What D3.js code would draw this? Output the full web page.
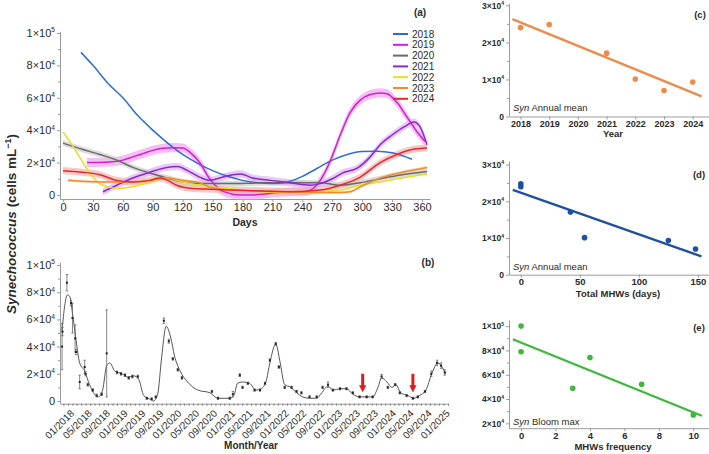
<!DOCTYPE html>
<html><head><meta charset="utf-8">
<script src="https://cdn.jsdelivr.net/npm/d3@7"></script>
<style>
body{margin:0;background:#fff;}
svg{font-family:"Liberation Sans",Arial,sans-serif;}
</style></head><body>
<svg id="chart" width="709" height="454"></svg>
<script>
// ---------- DATA ----------
const years = ["2018","2019","2020","2021","2022","2023","2024"];
const yearColors = ["#2f6bd8","#d21fd2","#6b6b6b","#8f25d2","#e6df22","#f28b2c","#e02b2b"];
const bandColors = [null,"#f3a3f1","#cfcfcf","#dcb4f3",null,"#f8cfa5","#f6b0b0"];
const bandHalf = [0,2800,1800,2200,0,900,2200];
const s2018 = [[18,88000],[30,80000],[45,69000],[60,60000],[75,49000],[90,40000],[105,32000],[120,25000],[135,19500],[150,15000],[165,11500],[180,9000],[195,7500],[210,7000],[225,8000],[240,11500],[255,16500],[270,21500],[285,25000],[300,26800],[315,27000],[330,26000],[350,22000]];
const s2019 = [[24,20000],[35,20000],[50,20500],[60,21500],[70,23500],[80,25500],[90,27500],[100,28800],[110,29200],[120,29000],[128,26000],[137,20000],[147,10000],[157,3500],[168,800],[178,0],[190,0],[200,500],[215,1500],[230,2000],[240,2000],[248,3000],[258,9000],[268,21000],[278,37000],[288,51000],[298,58500],[308,62000],[318,63000],[325,62500],[335,57000],[345,48000],[355,39000],[363,33000]];
const s2020 = [[0,32000],[20,28000],[37,25000],[54,21500],[70,17000],[87,13500],[104,10500],[120,8000],[137,7000],[150,7000],[168,7000],[200,7500],[230,7500],[258,7500],[278,6000],[298,7500],[318,10000],[340,12500],[365,14500]];
const s2021 = [[40,2000],[54,6000],[70,10500],[87,14000],[104,17000],[115,17500],[125,15000],[137,11000],[147,9000],[157,10500],[170,12500],[178,13000],[190,10500],[208,9000],[228,7500],[248,6000],[258,7000],[270,10000],[280,13500],[295,16500],[308,23500],[318,31000],[330,37000],[342,42000],[352,45000],[358,42000],[365,31000]];
const s2022 = [[0,39000],[10,30000],[20,20000],[30,11000],[40,6000],[54,4000],[70,5000],[87,8000],[104,10500],[120,8000],[137,6000],[157,4500],[178,3000],[200,2000],[230,1500],[258,2000],[278,3000],[298,6000],[318,8000],[340,10500],[365,13000]];
const s2023 = [[5,9000],[37,8000],[70,8000],[87,9000],[104,10500],[120,9000],[137,7500],[147,5000],[170,3000],[200,2300],[240,1700],[278,1500],[288,2000],[298,5000],[318,10500],[340,14000],[365,17000]];
const s2024 = [[0,15000],[20,14000],[37,12500],[54,9000],[70,8000],[87,9000],[97,10500],[105,9000],[114,6000],[130,4000],[150,3500],[170,3000],[200,2500],[230,2000],[258,3000],[278,6000],[298,11000],[318,20000],[335,25000],[350,28000],[365,29000]];
const seriesA = [s2018,s2019,s2020,s2021,s2022,s2023,s2024];
const dayTicks = [0,30,60,90,120,150,180,210,240,270,300,330,360];
const cellTicksA = [0,20000,40000,60000,80000,100000];

const bDates = ["2017-11-22","2017-11-25","2017-12-25","2018-01-22","2018-02-01","2018-02-19","2018-02-25","2018-03-22","2018-04-25","2018-05-01","2018-05-16","2018-06-19","2018-07-16","2018-08-19","2018-09-22","2018-12-01","2018-12-28","2019-01-25","2019-02-19","2019-03-16","2019-04-22","2019-06-22","2019-07-25","2019-08-22","2019-10-16","2019-11-19","2019-12-16","2020-01-19","2020-02-16","2020-09-07","2020-10-19","2021-01-07","2021-01-28","2021-03-16","2021-04-04","2021-05-10","2021-06-25","2021-08-01","2021-09-04","2021-10-07","2021-11-16","2021-12-07","2022-01-16","2022-03-04","2022-04-07","2022-05-10","2022-07-04","2022-08-22","2022-10-01","2022-11-07","2022-12-10","2023-01-28","2023-03-13","2023-04-25","2023-06-10","2023-07-28","2023-09-07","2023-11-07","2023-12-19","2024-02-07","2024-03-10","2024-04-25","2024-06-07","2024-07-10","2024-08-28","2024-10-10","2024-11-19","2024-12-16","2025-01-10"];
const bValues = [40000,51000,87000,72000,61000,46000,36000,14000,25000,20000,12000,8000,4000,5000,35000,21000,20000,19000,17000,18000,18000,2000,1500,3000,59000,44000,31000,23000,17000,7000,2000,2000,5000,19000,10000,13000,8000,8000,13000,30000,42000,25000,10000,10000,7000,6000,3000,3000,10000,12000,8000,9000,9000,6000,3000,3000,3000,18000,10000,12000,6000,4000,2000,3000,7000,20000,28000,26000,21000];
const bErrors = [17000,3000,6000,2000,11000,10000,2000,5000,5000,1500,1000,1000,1000,1000,32000,1000,1000,1000,1000,1000,1000,800,800,800,2000,1500,1000,1000,1000,800,800,800,2000,1000,800,800,800,800,800,1000,1000,1000,800,800,800,800,800,800,800,2000,800,800,800,800,800,800,800,1500,800,800,800,800,800,800,800,2000,2000,2000,2000];
const fitDates = ["2017-11-22","2017-12-10","2017-12-28","2018-01-13","2018-02-04","2018-02-25","2018-03-22","2018-04-25","2018-05-28","2018-07-01","2018-07-28","2018-08-25","2018-09-22","2018-10-13","2018-11-16","2019-01-04","2019-02-13","2019-03-25","2019-04-28","2019-06-01","2019-07-10","2019-08-07","2019-09-04","2019-10-01","2019-11-01","2019-12-01","2019-12-28","2020-02-04","2020-03-25","2020-06-04","2020-08-25","2020-10-19","2021-01-07","2021-02-04","2021-03-01","2021-04-04","2021-05-22","2021-07-04","2021-08-07","2021-09-10","2021-10-07","2021-11-16","2021-12-13","2022-01-16","2022-02-28","2022-04-07","2022-05-19","2022-07-04","2022-08-22","2022-09-25","2022-11-07","2022-12-10","2023-01-28","2023-03-13","2023-04-25","2023-06-10","2023-07-28","2023-09-07","2023-10-13","2023-11-07","2023-12-13","2024-01-16","2024-02-13","2024-03-16","2024-05-04","2024-06-13","2024-07-22","2024-09-04","2024-10-13","2024-11-25","2024-12-22","2025-01-16"];
const fitValues = [52000,70000,78000,77000,62000,45000,28000,22000,12000,5000,3000,8000,26000,28000,22000,20000,17500,18500,16000,4000,1500,0,5000,32000,55000,47000,33000,22000,14000,8000,6000,2000,2000,4000,13000,14000,13000,8000,9000,14000,28000,42000,30000,12000,10000,6000,3000,2000,2000,6000,11000,8000,9000,9000,5000,3000,3000,3000,10000,17000,14000,10000,12000,6000,4000,2000,4000,8000,20000,28000,25000,20000];
const arrowDates = ["2023-07-01","2024-06-07"];

const annualYears = [2018,2019,2021,2022,2023,2024];
const annualMean = [24000,24800,17100,10100,7000,9300];
const mhwDays = [0,0,42,54,148,125];
const mhwFrequency = [0,0,3,4,7,10];
const bloomMax = [100000,78900,48800,74200,52100,26800];
const yearTicks = [2018,2019,2020,2021,2022,2023,2024];
const dayTicksD = [0,50,100,150];
const freqTicks = [0,2,4,6,8,10];
const meanTicks = [0,10000,20000,30000];
const bloomTicks = [20000,40000,60000,80000,100000];

// ---------- DRAW ----------
const svg = d3.select("#chart");
const FONT = "'Liberation Sans', Arial, sans-serif";
const TXT = "#2b2b2b", AX = "#9c9c9c";
const parse = d3.timeParse("%Y-%m-%d");

function supLabel(t, v, fs) {
  t.text(null);
  if (v === 0) { t.text("0"); return; }
  const e = Math.floor(Math.log10(v) + 1e-9);
  const m = Math.round(v / Math.pow(10, e));
  t.append("tspan").text(m + "×10");
  t.append("tspan").attr("dy", -fs * 0.42).attr("font-size", fs * 0.6).text(e);
}
function styleAxis(a, fs, weight) {
  a.select(".domain").attr("stroke", AX);
  a.selectAll(".tick line").attr("stroke", AX);
  a.selectAll(".tick text").attr("font-size", fs).attr("font-weight", weight)
    .attr("fill", TXT).attr("font-family", FONT);
}
function yAxis(x0, y, ticks, fs, weight, minor) {
  const g = svg.append("g").attr("transform", `translate(${x0},0)`);
  if (minor) {
    const m = g.append("g").call(d3.axisLeft(y).tickValues(minor).tickSize(2).tickFormat(""));
    m.select(".domain").remove(); m.selectAll("line").attr("stroke", AX);
  }
  const a = g.append("g").call(d3.axisLeft(y).tickValues(ticks).tickSize(3).tickSizeOuter(0).tickPadding(2));
  styleAxis(a, fs, weight);
  a.selectAll(".tick text").each(function (d) { supLabel(d3.select(this), d, fs); });
  return a;
}
function xAxis(y0, x, ticks, fs, weight, fmt) {
  const a = svg.append("g").attr("transform", `translate(0,${y0})`)
    .call(d3.axisBottom(x).tickValues(ticks).tickSize(3).tickSizeOuter(0).tickPadding(1).tickFormat(fmt));
  styleAxis(a, fs, weight);
  return a;
}
function label(x, y, txt, fs, weight, anchor) {
  return svg.append("text").attr("x", x).attr("y", y).attr("font-size", fs)
    .attr("font-weight", weight || "bold").attr("fill", TXT)
    .attr("text-anchor", anchor || "middle").text(txt);
}
function linreg(xs, ys) {
  const mx = d3.mean(xs), my = d3.mean(ys);
  let sxy = 0, sxx = 0;
  xs.forEach((x, i) => { sxy += (x - mx) * (ys[i] - my); sxx += (x - mx) * (x - mx); });
  const b = sxy / sxx;
  return x => my + b * (x - mx);
}

// ===== Panel (a) =====
const xA = d3.scaleLinear().domain([-3, 368]).range([60, 430]);
const yA = d3.scaleLinear().domain([-2500, 101000]).range([199, 31.33]);
const minorA = d3.range(10000, 100000, 20000);
yAxis(60, yA, cellTicksA, 11, "normal", minorA);
xAxis(199, xA, dayTicks, 11, "normal", d3.format("d"));
label(245, 226, "Days", 10.5, "bold");
label(420, 16, "(a)", 10, "bold");

seriesA.forEach((s, i) => {
  if (bandHalf[i] > 0) {
    svg.append("path").datum(s)
      .attr("d", d3.area().x(d => xA(d[0])).y0(d => yA(d[1] - bandHalf[i])).y1(d => yA(d[1] + bandHalf[i])).curve(d3.curveMonotoneX))
      .attr("fill", bandColors[i]).attr("opacity", 0.7);
  }
});
seriesA.forEach((s, i) => {
  svg.append("path").datum(s)
    .attr("d", d3.line().x(d => xA(d[0])).y(d => yA(d[1])).curve(d3.curveMonotoneX))
    .attr("fill", "none").attr("stroke", yearColors[i]).attr("stroke-width", 1.5);
});
const leg = svg.append("g");
years.forEach((yr, i) => {
  const yy = 34 + i * 10.8;
  leg.append("line").attr("x1", 393).attr("x2", 408).attr("y1", yy).attr("y2", yy)
    .attr("stroke", yearColors[i]).attr("stroke-width", 2);
  leg.append("text").attr("x", 412).attr("y", yy).attr("dy", "0.35em")
    .attr("font-size", 10).attr("fill", TXT).text(yr);
});

// y title
const yt = svg.append("text").attr("transform", "translate(11,224) rotate(-90)")
  .attr("text-anchor", "middle").attr("dy", "0.35em").attr("font-size", 13.5).attr("font-weight", "bold").attr("fill", TXT);
yt.append("tspan").attr("font-style", "italic").text("Synechococcus");
yt.append("tspan").text(" (cells mL");
yt.append("tspan").attr("dy", -4.5).attr("font-size", 9).text("−1");
yt.append("tspan").attr("dy", 4.5).text(")");

// ===== Panel (b) =====
const xB = d3.scaleTime().domain([new Date(2017, 10, 8), new Date(2025, 1, 1)]).range([60, 448]);
const yB = d3.scaleLinear().domain([-2000, 102000]).range([403.7, 262.3]);
yAxis(60, yB, cellTicksA, 11, "normal", minorA);
const monthTicks = d3.timeMonth.range(new Date(2017, 11, 1), new Date(2025, 1, 2));
const labelTicks = d3.timeMonth.every(4).range(new Date(2018, 0, 1), new Date(2025, 0, 2));
const mB = svg.append("g").attr("transform", "translate(0,403.7)")
  .call(d3.axisBottom(xB).tickValues(monthTicks).tickSize(2).tickSizeOuter(0).tickFormat(""));
mB.select(".domain").attr("stroke", AX); mB.selectAll("line").attr("stroke", "#777");
const lb = svg.append("g");
labelTicks.forEach(d => {
  lb.append("text").attr("transform", `translate(${xB(d) + 2},${409}) rotate(-45)`)
    .attr("text-anchor", "end").attr("dy", "0.7em").attr("font-size", 10).attr("fill", TXT)
    .text(d3.timeFormat("%m/%Y")(d));
});
label(251, 449, "Month/Year", 10, "bold");
label(428, 266, "(b)", 10, "bold");

svg.append("path").datum(fitDates.map((d, i) => [parse(d), fitValues[i]]))
  .attr("d", d3.line().x(d => xB(d[0])).y(d => yB(d[1])).curve(d3.curveMonotoneX))
  .attr("fill", "none").attr("stroke", "#555").attr("stroke-width", 1);
const pts = bDates.map((d, i) => ({ t: parse(d), v: bValues[i], e: bErrors[i] }));
const eb = svg.append("g").attr("stroke", "#666").attr("stroke-width", 0.8);
pts.forEach(p => {
  const x = xB(p.t);
  eb.append("line").attr("x1", x).attr("x2", x).attr("y1", yB(p.v - p.e)).attr("y2", yB(p.v + p.e));
  eb.append("line").attr("x1", x - 1.2).attr("x2", x + 1.2).attr("y1", yB(p.v - p.e)).attr("y2", yB(p.v - p.e));
  eb.append("line").attr("x1", x - 1.2).attr("x2", x + 1.2).attr("y1", yB(p.v + p.e)).attr("y2", yB(p.v + p.e));
});
svg.append("g").selectAll("rect").data(pts).join("rect")
  .attr("x", d => xB(d.t) - 1).attr("y", d => yB(d.v) - 1).attr("width", 2).attr("height", 2).attr("fill", "#222");

const defs = svg.append("defs");
defs.append("marker").attr("id", "ah").attr("viewBox", "0 0 10 10").attr("refX", 5).attr("refY", 5)
  .attr("markerWidth", 2.4).attr("markerHeight", 2.4).attr("orient", "auto")
  .append("path").attr("d", "M0,0 L10,5 L0,10 z").attr("fill", "#e01b1b");
arrowDates.forEach(d => {
  const x = xB(parse(d));
  svg.append("line").attr("x1", x).attr("x2", x).attr("y1", yB(20000)).attr("y2", yB(9000))
    .attr("stroke", "#e01b1b").attr("stroke-width", 3).attr("marker-end", "url(#ah)");
});

// ===== Panel (c) =====
const xC = d3.scaleLinear().domain([2017.6, 2024.55]).range([509, 708.5]);
const yC = d3.scaleLinear().domain([0, 30500]).range([116.5, 3.5]);
yAxis(509, yC, meanTicks, 8.5, "bold", [5000, 15000, 25000]);
xAxis(116.5, xC, yearTicks, 9, "bold", d3.format("d"));
const fC = linreg(annualYears, annualMean);
svg.append("line").attr("x1", xC(2017.72)).attr("x2", xC(2024.31)).attr("y1", yC(fC(2017.72))).attr("y2", yC(fC(2024.31)))
  .attr("stroke", "#f08a4b").attr("stroke-width", 2.4);
svg.append("g").selectAll("circle").data(annualYears).join("circle")
  .attr("cx", d => xC(d)).attr("cy", (d, i) => yC(annualMean[i])).attr("r", 2.8).attr("fill", "#f08a4b");
label(613, 137, "Year", 9.5, "bold");
label(700, 18, "(c)", 9.5, "bold");
const tc = label(513, 111, "", 9.5, "normal", "start");
tc.append("tspan").attr("font-style", "italic").text("Syn");
tc.append("tspan").text(" Annual mean");

// ===== Panel (d) =====
const xD = d3.scaleLinear().domain([-10, 159]).range([509, 708.5]);
const yD = d3.scaleLinear().domain([0, 31000]).range([274.7, 161]);
yAxis(509, yD, meanTicks, 8.5, "bold", [5000, 15000, 25000]);
xAxis(274.7, xD, dayTicksD, 9.5, "bold", d3.format("d"));
const fD = linreg(mhwDays, annualMean);
svg.append("line").attr("x1", xD(-6.8)).attr("x2", xD(153)).attr("y1", yD(fD(-6.8))).attr("y2", yD(fD(153)))
  .attr("stroke", "#1f4fa5").attr("stroke-width", 2.4);
svg.append("g").selectAll("circle").data(mhwDays).join("circle")
  .attr("cx", d => xD(d)).attr("cy", (d, i) => yD(annualMean[i])).attr("r", 2.8).attr("fill", "#1f4fa5");
label(618, 297, "Total MHWs (days)", 9.5, "bold");
label(699, 178, "(d)", 9.5, "bold");
const td = label(513, 270, "", 9.5, "normal", "start");
td.append("tspan").attr("font-style", "italic").text("Syn");
td.append("tspan").text(" Annual mean");

// ===== Panel (e) =====
const xE = d3.scaleLinear().domain([-0.7, 10.9]).range([509, 708.8]);
const yE = d3.scaleLinear().domain([16000, 105000]).range([428.2, 320]);
yAxis(509, yE, bloomTicks, 8.5, "bold", [30000, 50000, 70000, 90000]);
xAxis(428.2, xE, freqTicks, 9.5, "bold", d3.format("d"));
const fE = linreg(mhwFrequency, bloomMax);
svg.append("line").attr("x1", xE(-0.48)).attr("x2", xE(10.49)).attr("y1", yE(fE(-0.48))).attr("y2", yE(fE(10.49)))
  .attr("stroke", "#3db83d").attr("stroke-width", 2.4);
svg.append("g").selectAll("circle").data(mhwFrequency).join("circle")
  .attr("cx", d => xE(d)).attr("cy", (d, i) => yE(bloomMax[i])).attr("r", 2.8).attr("fill", "#3db83d");
label(613, 450, "MHWs frequency", 9.5, "bold");
label(699, 331, "(e)", 9.5, "bold");
const te = label(513, 425, "", 9.5, "normal", "start");
te.append("tspan").attr("font-style", "italic").text("Syn");
te.append("tspan").text(" Bloom max");
</script></body></html>
